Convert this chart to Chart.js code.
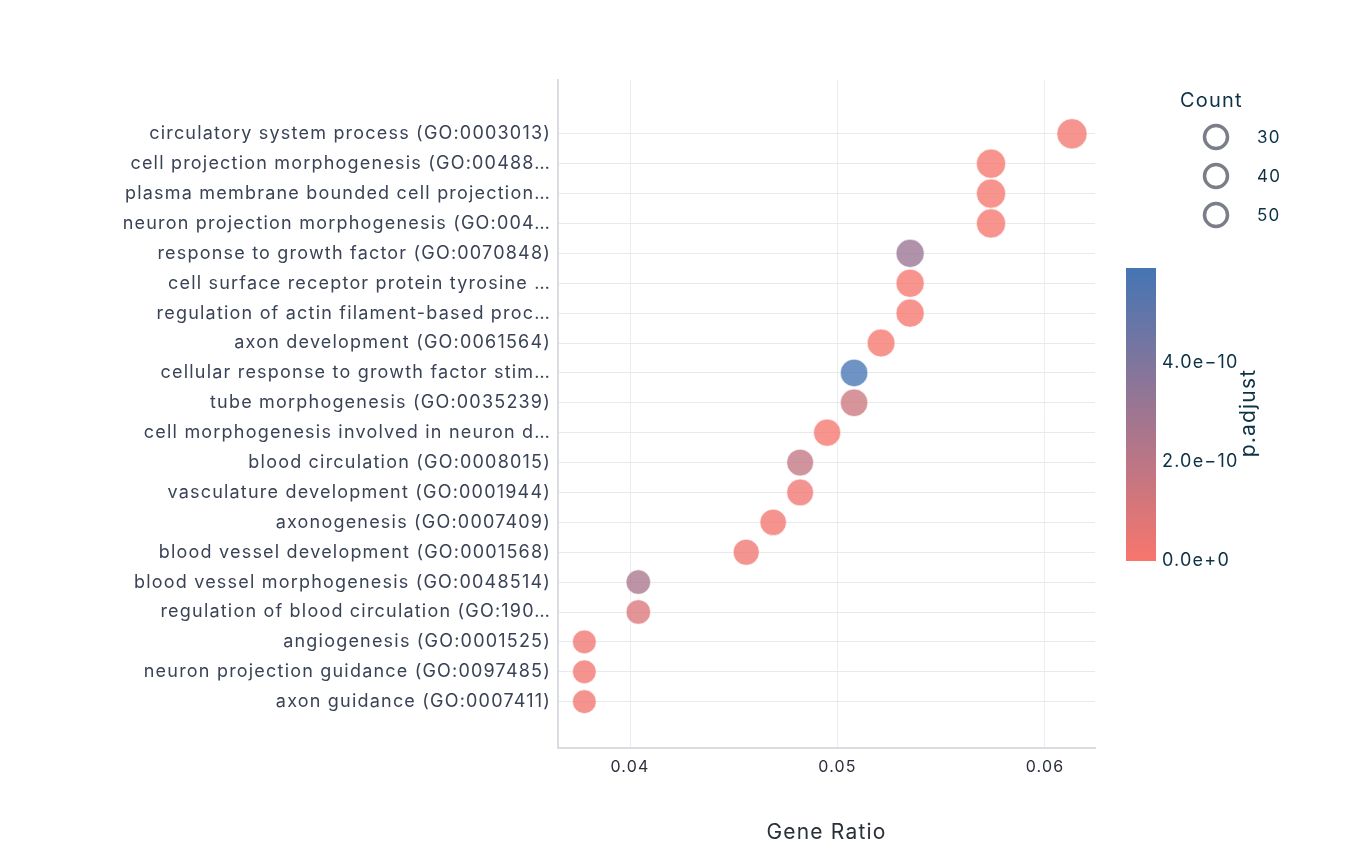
<!DOCTYPE html>
<html><head><meta charset="utf-8">
<script src="https://cdn.jsdelivr.net/npm/chart.js@4.4.1/dist/chart.umd.min.js"></script>
<style>html,body{margin:0;padding:0;background:#fff;}#wrap{width:1356px;height:848px;position:relative;}</style>
</head><body><div id="wrap"><canvas id="c" width="1356" height="848"></canvas></div>
<script>
const terms = [
  "circulatory system process (GO:0003013)",
  "cell projection morphogenesis (GO:00488…",
  "plasma membrane bounded cell projection…",
  "neuron projection morphogenesis (GO:004…",
  "response to growth factor (GO:0070848)",
  "cell surface receptor protein tyrosine …",
  "regulation of actin filament-based proc…",
  "axon development (GO:0061564)",
  "cellular response to growth factor stim…",
  "tube morphogenesis (GO:0035239)",
  "cell morphogenesis involved in neuron d…",
  "blood circulation (GO:0008015)",
  "vasculature development (GO:0001944)",
  "axonogenesis (GO:0007409)",
  "blood vessel development (GO:0001568)",
  "blood vessel morphogenesis (GO:0048514)",
  "regulation of blood circulation (GO:190…",
  "angiogenesis (GO:0001525)",
  "neuron projection guidance (GO:0097485)",
  "axon guidance (GO:0007411)"
];
const geneRatio = [0.0613,0.0574,0.0574,0.0574,0.0535,0.0535,0.0535,0.0521,0.0508,0.0508,0.0495,0.0482,0.0482,0.0469,0.0456,0.0404,0.0404,0.0378,0.0378,0.0378];
const counts = [47,44,44,44,41,41,41,40,39,39,38,37,37,36,35,31,31,29,29,29];
const pAdjust = [0.15e-10,0.1e-10,0.1e-10,0.1e-10,3.1e-10,0.1e-10,0.1e-10,0.05e-10,5.92e-10,1.5e-10,0.05e-10,1.8e-10,0.3e-10,0.2e-10,0.3e-10,2.6e-10,1.0e-10,0.3e-10,0.2e-10,0.2e-10];
const xTicks = [0.04,0.05,0.06];
const sizeLegend = [30,40,50];
const cbTicks = [0, 2e-10, 4e-10];
const cbMax = 5.92e-10;

const lowC = [248,118,109], highC = [69,117,180];
function colorFor(p, a){
  const t = Math.max(0, Math.min(1, p / cbMax));
  const c = lowC.map((v,i)=>Math.round(v + (highC[i]-v)*t));
  return `rgba(${c[0]},${c[1]},${c[2]},${a})`;
}
const FONT = "Inter, 'Noto Sans', sans-serif";
const SPACING = '1.2px';

const overlay = {
  id:'overlay',
  beforeInit(chart){ chart.ctx.letterSpacing = SPACING; },
  beforeDraw(chart){ chart.ctx.letterSpacing = SPACING; },
  afterDraw(chart){
    const ctx = chart.ctx;
    ctx.save();
    ctx.letterSpacing = SPACING;
    ctx.fillStyle = '#0d3145';
    ctx.font = `20px ${FONT}`;
    ctx.textAlign = 'left'; ctx.textBaseline = 'middle';
    ctx.fillText('Count', 1180, 101);
    sizeLegend.forEach((v,i)=>{
      const y = 137 + i*39;
      ctx.beginPath(); ctx.arc(1216, y, 11.5, 0, Math.PI*2);
      ctx.lineWidth = 3.5; ctx.strokeStyle = 'rgb(122,126,136)'; ctx.stroke();
      ctx.fillStyle = '#0d3145'; ctx.font = `17px ${FONT}`;
      ctx.fillText(String(v), 1257, y+1);
    });
    const x0 = 1126, x1 = 1156, yTop = 268, yBot = 561;
    const g = ctx.createLinearGradient(0, yBot, 0, yTop);
    g.addColorStop(0, colorFor(0,1)); g.addColorStop(1, colorFor(cbMax,1));
    ctx.fillStyle = g; ctx.fillRect(x0, yTop, x1-x0, yBot-yTop);
    ctx.fillStyle = '#0d3145'; ctx.font = `18px ${FONT}`;
    ctx.textAlign = 'left'; ctx.textBaseline = 'middle';
    cbTicks.forEach(v=>{
      const y = yBot - (v/cbMax)*(yBot-yTop);
      const m = v.toExponential(1).replace('-', '\u2212');
      ctx.fillText(m, 1162, y);
    });
    ctx.translate(1249, 413); ctx.rotate(-Math.PI/2);
    ctx.textAlign = 'center'; ctx.font = `21px ${FONT}`;
    ctx.fillText('p.adjust', 0, 0);
    ctx.restore();
  }
};

new Chart(document.getElementById('c'), {
  type:'scatter',
  data:{ datasets:[{
    data: geneRatio.map((x,i)=>({x, y:i})),
    pointRadius: counts.map(c=>2.2*Math.sqrt(c)),
    pointHoverRadius: counts.map(c=>2.2*Math.sqrt(c)),
    pointBackgroundColor: pAdjust.map(p=>colorFor(p,0.78)),
    pointBorderColor: 'rgba(255,255,255,0.6)',
    pointBorderWidth: 1
  }]},
  options:{
    responsive:false, animation:false,
    layout:{padding:{left:0, right:261, top:80, bottom:0}},
    plugins:{legend:{display:false}, tooltip:{enabled:false}},
    scales:{
      x:{
        type:'linear', min:0.03653, max:0.06241,
        afterBuildTicks(s){ s.ticks = xTicks.map(v=>({value:v})); },
        afterFit(s){ s.height = 100; },
        grid:{color:'rgb(236,237,242)', drawTicks:false},
        border:{color:'rgb(218,220,226)', width:2},
        ticks:{padding:10, color:'#2a2f3a', font:{family:FONT, size:16}, callback:v=>v.toFixed(2)},
        title:{display:true, text:'Gene Ratio', color:'#2a2f3a', font:{family:FONT, size:21}, padding:{top:0,bottom:3}}
      },
      y:{
        type:'linear', reverse:true, min:-1.8, max:20.55,
        afterBuildTicks(s){ s.ticks = terms.map((t,i)=>({value:i})); },
        afterFit(s){ s.width = 558; },
        grid:{color:'rgb(232,233,238)', drawTicks:false},
        border:{color:'rgb(218,220,226)', width:2},
        ticks:{padding:7, color:'#3a4356', font:{family:FONT, size:18}, callback:(v)=>terms[v]}
      }
    }
  },
  plugins:[overlay]
});
</script></body></html>
